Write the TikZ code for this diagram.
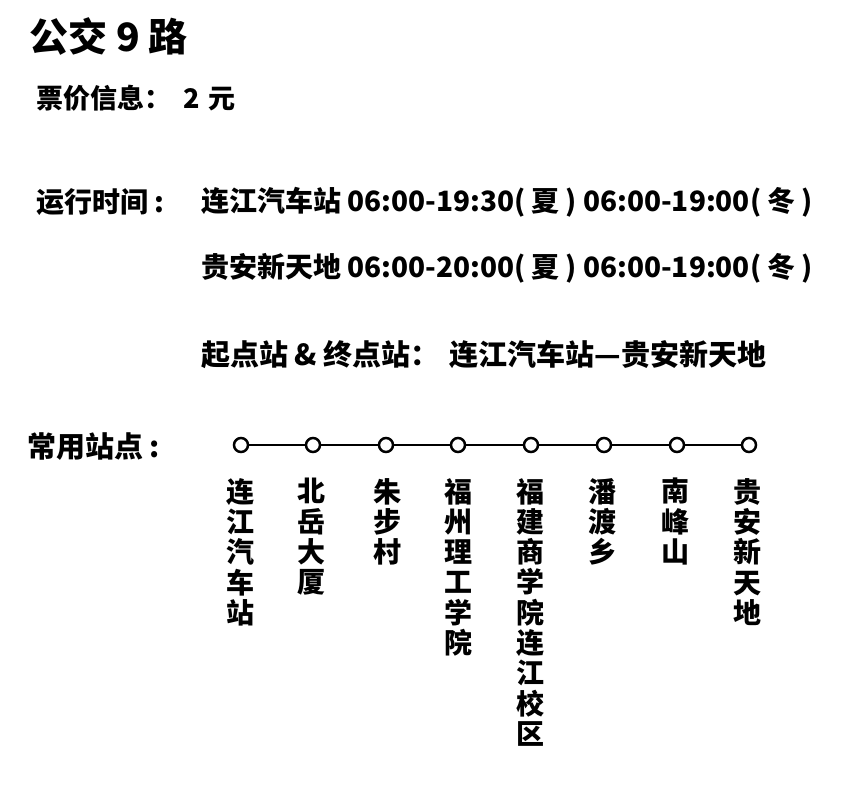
\documentclass[tikz,border=0pt]{standalone}
\usepackage{fontspec}
\newfontfamily\cjk{Noto Sans CJK SC}
\begin{document}
\begin{tikzpicture}[x=1pt,y=-1pt,
  txt/.style={inner sep=0pt, anchor=west, font=\cjk\bfseries\fontsize{28}{28}\selectfont},
  vlab/.style={inner sep=0pt, anchor=north, align=center, font=\cjk\bfseries\fontsize{28}{30.3}\selectfont},
  stop/.style={circle, draw=black, line width=2.5pt, fill=white, minimum size=14pt, inner sep=0pt},
  route/.style={line width=2pt, draw=black}]
\useasboundingbox[fill=white] (0,0) rectangle (861,808);
\node[txt, font=\cjk\bfseries\fontsize{39}{39}\selectfont] (title) at (29,37) {公交\hspace{9pt}9\hspace{9pt}路};
\node[txt, font=\cjk\bfseries\fontsize{27}{27}\selectfont] (price) at (36,98) {票价信息：\hspace{12pt}2\hspace{9pt}元};
\node[txt] (timelbl) at (36,202) {运行时间\hspace{6pt}:};
\node[txt] (t1) at (201,202) {连江汽车站 06:00-19:30(\hspace{6pt}夏\hspace{6pt}) 06:00-19:00(\hspace{6pt}冬\hspace{6pt})};
\node[txt] (t2) at (201,268) {贵安新天地 06:00-20:00(\hspace{6pt}夏\hspace{6pt}) 06:00-19:00(\hspace{6pt}冬\hspace{6pt})};
\node[txt, font=\cjk\bfseries\fontsize{29}{29}\selectfont] (ends) at (201,355) {起点站 \& 终点站：\hspace{10pt}连江汽车站—贵安新天地};
\node[txt, font=\cjk\bfseries\fontsize{29}{29}\selectfont] (stopslbl) at (27,447) {常用站点\hspace{6pt}:};
\foreach \i/\x in {1/241,2/313,3/386,4/458,5/531,6/604,7/677,8/749}{
  \node[stop] (s\i) at (\x,445) {};
}
\foreach \a/\b in {1/2,2/3,3/4,4/5,5/6,6/7,7/8}{
  \draw[route] (s\a) -- (s\b);
}
\node[vlab] (l1) at (240,478) {连\\江\\汽\\车\\站};
\node[vlab] (l2) at (311,478) {北\\岳\\大\\厦};
\node[vlab] (l3) at (387,478) {朱\\步\\村};
\node[vlab] (l4) at (458,478) {福\\州\\理\\工\\学\\院};
\node[vlab] (l5) at (530,478) {福\\建\\商\\学\\院\\连\\江\\校\\区};
\node[vlab] (l6) at (602,478) {潘\\渡\\乡};
\node[vlab] (l7) at (675,478) {南\\峰\\山};
\node[vlab] (l8) at (747,478) {贵\\安\\新\\天\\地};
\end{tikzpicture}
\end{document}
